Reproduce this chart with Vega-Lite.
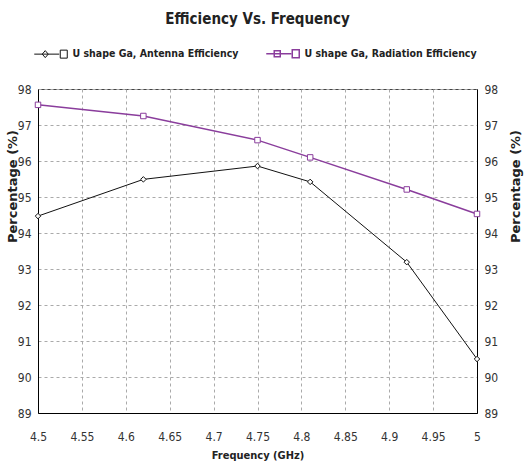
{
  "$schema": "https://vega.github.io/schema/vega-lite/v6.json",
  "autosize": {"type": "none"},
  "padding": {"left": 38, "top": 89, "right": 50, "bottom": 53},
  "width": 439,
  "height": 324,
  "background": "white",
  "title": {
    "text": "Efficiency Vs. Frequency",
    "font": "'DejaVu Sans Condensed', 'Liberation Sans'",
    "fontSize": 15,
    "fontWeight": "bold",
    "color": "#222",
    "anchor": "middle",
    "offset": 21
  },
  "data": {
    "values": [
      {"freq": 4.5, "pct": 94.47, "series": "U shape Ga, Antenna Efficiency"},
      {"freq": 4.62, "pct": 95.49, "series": "U shape Ga, Antenna Efficiency"},
      {"freq": 4.75, "pct": 95.86, "series": "U shape Ga, Antenna Efficiency"},
      {"freq": 4.81, "pct": 95.42, "series": "U shape Ga, Antenna Efficiency"},
      {"freq": 4.92, "pct": 93.19, "series": "U shape Ga, Antenna Efficiency"},
      {"freq": 5.0, "pct": 90.5, "series": "U shape Ga, Antenna Efficiency"},
      {"freq": 4.5, "pct": 97.56, "series": "U shape Ga, Radiation Efficiency"},
      {"freq": 4.62, "pct": 97.25, "series": "U shape Ga, Radiation Efficiency"},
      {"freq": 4.75, "pct": 96.58, "series": "U shape Ga, Radiation Efficiency"},
      {"freq": 4.81, "pct": 96.1, "series": "U shape Ga, Radiation Efficiency"},
      {"freq": 4.92, "pct": 95.21, "series": "U shape Ga, Radiation Efficiency"},
      {"freq": 5.0, "pct": 94.53, "series": "U shape Ga, Radiation Efficiency"}
    ]
  },
  "config": {
    "view": {"stroke": "#444", "strokeWidth": 1},
    "axis": {
      "labelFont": "'DejaVu Sans Condensed', 'Liberation Sans'",
      "labelFontSize": 12,
      "labelColor": "#333",
      "domainColor": "#000",
      "domainWidth": 1,
      "ticks": false,
      "gridColor": "#aaa",
      "gridDash": [3, 3],
      "gridWidth": 1
    }
  },
  "layer": [
    {
      "mark": {"type": "line"},
      "encoding": {
        "x": {
          "field": "freq",
          "type": "quantitative",
          "scale": {"domain": [4.5, 5], "nice": false, "zero": false},
          "axis": {
            "values": [4.5, 4.55, 4.6, 4.65, 4.7, 4.75, 4.8, 4.85, 4.9, 4.95, 5],
            "format": "~g",
            "labelPadding": 18,
            "labelFlush": false,
            "title": "Frequency (GHz)",
            "titleFont": "'DejaVu Sans Condensed', 'Liberation Sans'",
            "titleFontSize": 11,
            "titleFontWeight": "bold",
            "titleColor": "#222",
            "titlePadding": 7
          }
        },
        "y": {
          "field": "pct",
          "type": "quantitative",
          "scale": {"domain": [89, 98], "nice": false, "zero": false},
          "axis": {
            "values": [89, 90, 91, 92, 93, 94, 95, 96, 97, 98],
            "labelPadding": 7,
            "title": "Percentage (%)",
            "titleFont": "DejaVu Sans",
            "titleFontSize": 13,
            "titleFontWeight": "bold",
            "titleColor": "#222",
            "titleAngle": -90,
            "titleBaseline": "middle",
            "titleX": -26,
            "titleY": 97
          }
        },
        "strokeWidth": {"field": "series", "type": "nominal", "scale": {"range": [1, 1.5]}, "legend": null},
        "color": {
          "field": "series",
          "type": "nominal",
          "scale": {"range": ["#111111", "#8a3d9c"]},
          "legend": {
            "title": null,
            "orient": "none",
            "legendX": -9,
            "legendY": -41,
            "direction": "horizontal",
            "columnPadding": 22,
            "padding": 0,
            "labelFont": "'DejaVu Sans Condensed', 'Liberation Sans'",
            "labelFontSize": 10.5,
            "labelFontWeight": "bold",
            "labelColor": "#222",
            "labelOffset": 33,
            "labelLimit": 300,
            "symbolSize": 4,
            "symbolStrokeWidth": 1,
            "encode": {
              "symbols": {
                "update": {
                  "shape": {"signal": "datum.value === 'U shape Ga, Antenna Efficiency' ? 'M0,0H25M8,0L11,-3.5L14,0L11,3.5ZM26,-4H33V4H26Z' : 'M0,0H25M8,-3H14V3H8ZM26,-4H33V4H26Z'"},
                  "size": {"value": 4},
                  "fill": {"value": "white"},
                  "fillOpacity": {"value": 1}
                }
              }
            }
          }
        }
      }
    },
    {
      "mark": {"type": "point", "filled": true, "fill": "white", "strokeWidth": 1, "size": 30, "opacity": 1},
      "encoding": {
        "x": {"field": "freq", "type": "quantitative", "scale": {"domain": [4.5, 5], "nice": false, "zero": false}},
        "y": {
          "field": "pct",
          "type": "quantitative",
          "scale": {"domain": [89, 98], "nice": false, "zero": false},
          "axis": {
            "orient": "right",
            "grid": false,
            "values": [89, 90, 91, 92, 93, 94, 95, 96, 97, 98],
            "labelPadding": 7,
            "title": "Percentage (%)",
            "titleFont": "DejaVu Sans",
            "titleFontSize": 13,
            "titleFontWeight": "bold",
            "titleColor": "#222",
            "titleAngle": 270,
            "titleBaseline": "middle",
            "titleX": 38,
            "titleY": 97
          }
        },
        "stroke": {"field": "series", "type": "nominal", "scale": {"range": ["#111111", "#8a3d9c"]}, "legend": null},
        "shape": {"field": "series", "type": "nominal", "scale": {"range": ["diamond", "square"]}, "legend": null}
      }
    }
  ],
  "resolve": {"scale": {"y": "independent"}}
}
